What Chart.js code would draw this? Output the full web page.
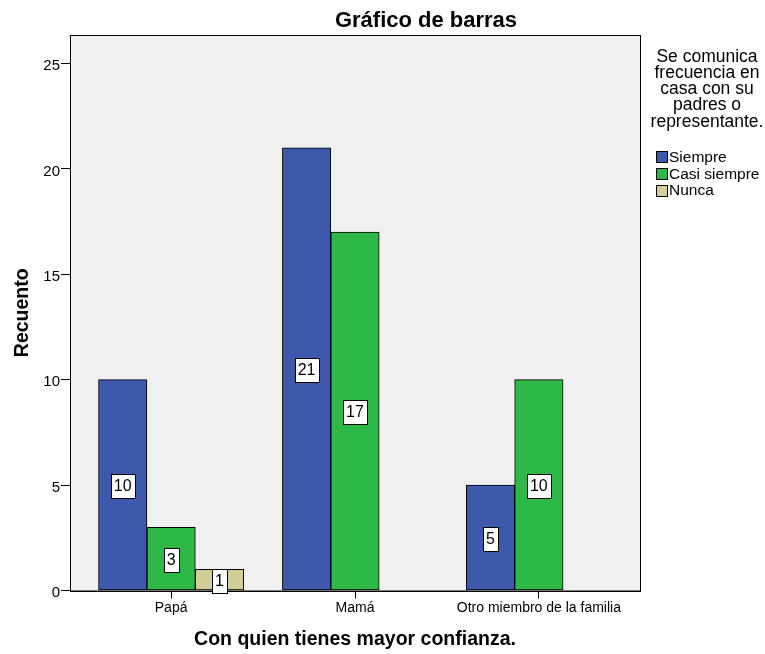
<!DOCTYPE html>
<html>
<head>
<meta charset="utf-8">
<script src="https://cdn.jsdelivr.net/npm/chart.js@4"></script>
<style>
  html, body { margin: 0; padding: 0; background: #fff; }
  canvas { display: block; }
</style>
</head>
<body>
<canvas id="bar" width="765" height="654"></canvas>
<script>
const categories = ['Papá', 'Mamá', 'Otro miembro de la familia']
const seriesNames = ['Siempre', 'Casi siempre', 'Nunca']
const siempre = [10, 21, 5]
const casiSiempre = [3, 17, 10]
const nunca = [1, null, null]
const yTicks = [0, 5, 10, 15, 20, 25]
const colors = ['#3e58ac', '#2eb848', '#d3ce97']
const legendTitle = ['Se comunica', 'frecuencia en', 'casa con su', 'padres o', 'representante.']

const toPoints = (values) => values.map((v, i) => ({ x: i, y: v }))

const plotBox = {
  id: 'plotBox',
  beforeDatasetsDraw(chart) {
    const { ctx, chartArea: a } = chart
    ctx.save()
    ctx.fillStyle = '#f0f0f0'
    ctx.fillRect(a.left, a.top, a.right - a.left, a.bottom - a.top)
    ctx.strokeStyle = '#000'
    ctx.lineWidth = 1
    ctx.strokeRect(Math.round(a.left) + 0.5, Math.round(a.top) + 0.5, Math.round(a.right - a.left), Math.round(a.bottom - a.top))
    ctx.restore()
  },
  afterDatasetsDraw(chart) {
    const { ctx } = chart
    ctx.save()
    ctx.font = '16px Arial, "Liberation Sans", sans-serif'
    ctx.textAlign = 'center'
    ctx.textBaseline = 'middle'
    chart.data.datasets.forEach((ds, i) => {
      const meta = chart.getDatasetMeta(i)
      meta.data.forEach((bar, j) => {
        const v = ds.data[j].y
        if (v == null) return
        const txt = String(v)
        const w = Math.round(ctx.measureText(txt).width + 6)
        const h = 24
        const cx = bar.x
        const cy = (bar.y + bar.base) / 2 + 1
        const x0 = Math.round(cx - w / 2) + 0.5
        const y0 = Math.round(cy - h / 2) + 0.5
        ctx.fillStyle = '#fff'
        ctx.fillRect(x0, y0, w, h)
        ctx.strokeStyle = '#000'
        ctx.lineWidth = 1
        ctx.strokeRect(x0, y0, w, h)
        ctx.fillStyle = '#000'
        ctx.fillText(txt, cx, cy + 1)
      })
    })
    ctx.restore()
  },
  afterDraw(chart) {
    const { ctx } = chart
    ctx.save()
    ctx.fillStyle = '#000'
    ctx.textAlign = 'center'
    ctx.textBaseline = 'alphabetic'
    ctx.font = 'bold 22px Arial, "Liberation Sans", sans-serif'
    ctx.fillText('Gráfico de barras', 426, 27)

    ctx.font = '17.5px Arial, "Liberation Sans", sans-serif'
    legendTitle.forEach((line, i) => {
      ctx.fillText(line, 707, 61.7 + i * 16.25)
    })

    ctx.textAlign = 'left'
    ctx.font = '15.5px Arial, "Liberation Sans", sans-serif'
    chart.data.datasets.forEach((ds, i) => {
      const cy = 156.7 + i * 16.8
      const top = Math.round(cy - 5.5) + 0.5
      ctx.fillStyle = ds.backgroundColor
      ctx.fillRect(656.5, top, 11, 11)
      ctx.strokeStyle = '#000'
      ctx.lineWidth = 1
      ctx.strokeRect(656.5, top, 11, 11)
      ctx.fillStyle = '#000'
      ctx.fillText(ds.label, 669, cy + 5)
    })
    ctx.restore()
  }
}

new Chart(document.getElementById('bar'), {
  type: 'bar',
  data: {
    datasets: [siempre, casiSiempre, nunca].map((values, i) => ({
      label: seriesNames[i],
      data: toPoints(values),
      backgroundColor: colors[i],
      borderColor: '#000',
      borderWidth: 1,
      borderSkipped: false,
      barThickness: 48.4
    }))
  },
  options: {
    responsive: false,
    devicePixelRatio: 1,
    animation: false,
    layout: { padding: { top: 35, right: 125, left: 0, bottom: 0 } },
    plugins: {
      legend: { display: false },
      title: { display: false },
      tooltip: { enabled: false }
    },
    scales: {
      x: {
        type: 'linear',
        offset: false,
        min: -0.55,
        max: 2.55,
        afterBuildTicks: (scale) => { scale.ticks = categories.map((c, i) => ({ value: i })) },
        afterFit: (scale) => { scale.height = 63.5 },
        grid: { offset: false, drawOnChartArea: false, drawTicks: true, tickLength: 8, tickColor: '#000' },
        border: { display: true, color: '#000' },
        ticks: {
          padding: 1,
          color: '#000',
          autoSkip: false,
          maxRotation: 0,
          font: { family: 'Arial, "Liberation Sans", sans-serif', size: 14 },
          callback: (v) => categories[v]
        },
        title: {
          display: true,
          text: 'Con quien tienes mayor confianza.',
          color: '#000',
          font: { family: 'Arial, "Liberation Sans", sans-serif', size: 19.5, weight: 'bold' },
          padding: { top: 0, bottom: 2.3 }
        }
      },
      y: {
        min: 0,
        max: 26.35,
        afterBuildTicks: (scale) => { scale.ticks = yTicks.map((v) => ({ value: v })) },
        afterFit: (scale) => { scale.width = 70 },
        grid: { drawOnChartArea: false, drawTicks: true, tickLength: 9, tickColor: '#000' },
        border: { display: true, color: '#000' },
        ticks: {
          padding: 1,
          labelOffset: 2.5,
          color: '#000',
          font: { family: 'Arial, "Liberation Sans", sans-serif', size: 15 }
        },
        title: {
          display: true,
          text: 'Recuento',
          color: '#000',
          font: { family: 'Arial, "Liberation Sans", sans-serif', size: 19.5, weight: 'bold' },
          padding: { top: 10.8, bottom: 0 }
        }
      }
    }
  },
  plugins: [plotBox]
})
</script>
</body>
</html>
